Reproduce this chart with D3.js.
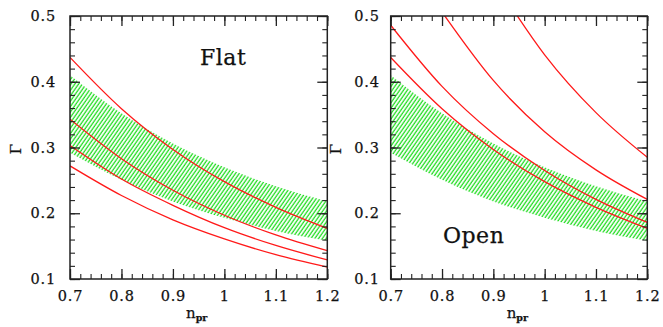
<!DOCTYPE html>
<html><head><meta charset="utf-8">
<script src="https://cdn.jsdelivr.net/npm/d3@7"></script>
<style>
body{margin:0;background:#fff}
text{font-family:"DejaVu Serif",serif;fill:#111;stroke:#111;stroke-width:0.25px}
</style>
</head><body>
<svg id="c" width="663" height="327"></svg>
<script>
// ---- data ----
const nGrid   = [0.7, 0.8, 0.9, 1.0, 1.1, 1.2];
const xTicks  = [0.7, 0.8, 0.9, 1.0, 1.1, 1.2];
const yTicks  = [0.1, 0.2, 0.3, 0.4, 0.5];
const xTickLabels = ["0.7", "0.8", "0.9", "1", "1.1", "1.2"];
const yTickLabels = ["0.1", "0.2", "0.3", "0.4", "0.5"];

// observational band (green hatched), same in both panels
const bandUpper = [0.410, 0.352, 0.306, 0.270, 0.241, 0.218];
const bandLower = [0.292, 0.251, 0.218, 0.193, 0.173, 0.158];

// Flat panel model curves
const flat1 = [0.437, 0.359, 0.297, 0.248, 0.209, 0.177];
const flat2 = [0.343, 0.283, 0.235, 0.197, 0.167, 0.143];
const flat3 = [0.303, 0.252, 0.212, 0.178, 0.151, 0.129];
const flat4 = [0.272, 0.227, 0.190, 0.161, 0.137, 0.118];

// Open panel model curves (null = above plotted range)
const open1 = [null, null, 0.556, 0.441, 0.353, 0.285];
const open2 = [null, 0.506, 0.402, 0.324, 0.266, 0.221];
const open3 = [0.486, 0.393, 0.321, 0.265, 0.221, 0.186];
const open4 = [0.437, 0.359, 0.297, 0.248, 0.209, 0.177];

const panelNames = ["Flat", "Open"];
const panelCurves = [[flat1, flat2, flat3, flat4], [open1, open2, open3, open4]];

// ---- layout ----
const svg = d3.select("#c");
const defs = svg.append("defs");
const pat = defs.append("pattern")
  .attr("id", "hatch").attr("patternUnits", "userSpaceOnUse")
  .attr("width", 3.1).attr("height", 10)
  .attr("patternTransform", "rotate(35)");
pat.append("line").attr("x1", 1).attr("x2", 1).attr("y1", 0).attr("y2", 10)
  .attr("stroke", "#22dd22").attr("stroke-width", 1.3);

const panels = [
  {x0: 70, x1: 327.3, y0: 16, y1: 279, labelGap: 14, nameX: 200, nameY: 65, gammaX: 16},
  {x0: 390.7, x1: 647.3, y0: 16, y1: 279, labelGap: 11, nameX: 443, nameY: 243, gammaX: 336}
];

const minorX = d3.range(0.7, 1.2001, 0.02).map(v => +v.toFixed(2));
const minorY = d3.range(0.1, 0.5001, 0.02).map(v => +v.toFixed(2));

panels.forEach((p, i) => {
  const x = d3.scaleLinear().domain([0.7, 1.2]).range([p.x0, p.x1]);
  const y = d3.scaleLinear().domain([0.1, 0.5]).range([p.y1, p.y0]);
  const g = svg.append("g");

  const clipId = "clip" + i;
  defs.append("clipPath").attr("id", clipId).append("rect")
    .attr("x", p.x0).attr("y", p.y0).attr("width", p.x1 - p.x0).attr("height", p.y1 - p.y0);

  const plot = g.append("g").attr("clip-path", `url(#${clipId})`);

  const bandData = nGrid.map((n, k) => ({n, lo: bandLower[k], hi: bandUpper[k]}));
  plot.append("path").datum(bandData)
    .attr("d", d3.area().x(d => x(d.n)).y0(d => y(d.lo)).y1(d => y(d.hi)).curve(d3.curveMonotoneX))
    .attr("fill", "url(#hatch)");

  const line = d3.line().defined(d => d.v !== null)
    .x(d => x(d.n)).y(d => y(d.v)).curve(d3.curveMonotoneX);
  panelCurves[i].forEach(c => {
    plot.append("path").datum(nGrid.map((n, k) => ({n, v: c[k]})))
      .attr("d", line).attr("fill", "none")
      .attr("stroke", "#ff1a1a").attr("stroke-width", 1.3);
  });

  // axes: ticks inward on all four sides
  const axes = [
    {gen: d3.axisBottom(x), t: `translate(0,${p.y1})`, vals: xTicks, minor: minorX, lab: true},
    {gen: d3.axisTop(x), t: `translate(0,${p.y0})`, vals: xTicks, minor: minorX, lab: false},
    {gen: d3.axisLeft(y), t: `translate(${p.x0},0)`, vals: yTicks, minor: minorY, lab: true},
    {gen: d3.axisRight(y), t: `translate(${p.x1},0)`, vals: yTicks, minor: minorY, lab: false}
  ];
  axes.forEach((a, ai) => {
    const isX = ai < 2;
    const labels = isX ? xTickLabels : yTickLabels;
    const major = a.gen.tickValues(a.vals).tickSize(-10)
      .tickPadding(isX ? 12 : p.labelGap)
      .tickFormat(a.lab ? ((d, k) => labels[k]) : "");
    const ga = g.append("g").attr("transform", a.t).call(major);
    ga.select(".domain").remove();
    ga.selectAll("line").attr("stroke", "#222").attr("stroke-width", 1.3);
    ga.selectAll("text").attr("font-size", 14.5).attr("letter-spacing", 0.8)
      .attr("font-family", "DejaVu Serif").attr("fill", "#111");
    const gm = g.append("g").attr("transform", a.t)
      .call(a.gen.tickValues(a.minor).tickSize(-5).tickFormat(""));
    gm.select(".domain").remove();
    gm.selectAll("line").attr("stroke", "#222").attr("stroke-width", 1.1);
  });

  g.append("rect").attr("x", p.x0).attr("y", p.y0)
    .attr("width", p.x1 - p.x0).attr("height", p.y1 - p.y0)
    .attr("fill", "none").attr("stroke", "#222").attr("stroke-width", 1.5);

  g.append("text").attr("x", p.nameX).attr("y", p.nameY)
    .attr("font-size", 22).attr("letter-spacing", 0.5).text(panelNames[i]);

  const xl = g.append("text").attr("x", p.x0 + 116).attr("y", 318).attr("font-size", 15);
  xl.append("tspan").text("n");
  xl.append("tspan").attr("dy", 3).attr("font-size", 9.5).attr("font-weight", "bold").text("pr");

  g.append("text")
    .attr("transform", `translate(${p.gammaX},149) rotate(-90)`)
    .attr("text-anchor", "middle").attr("dominant-baseline", "central")
    .attr("font-size", 15).text("Γ");
});
</script>
</body></html>
